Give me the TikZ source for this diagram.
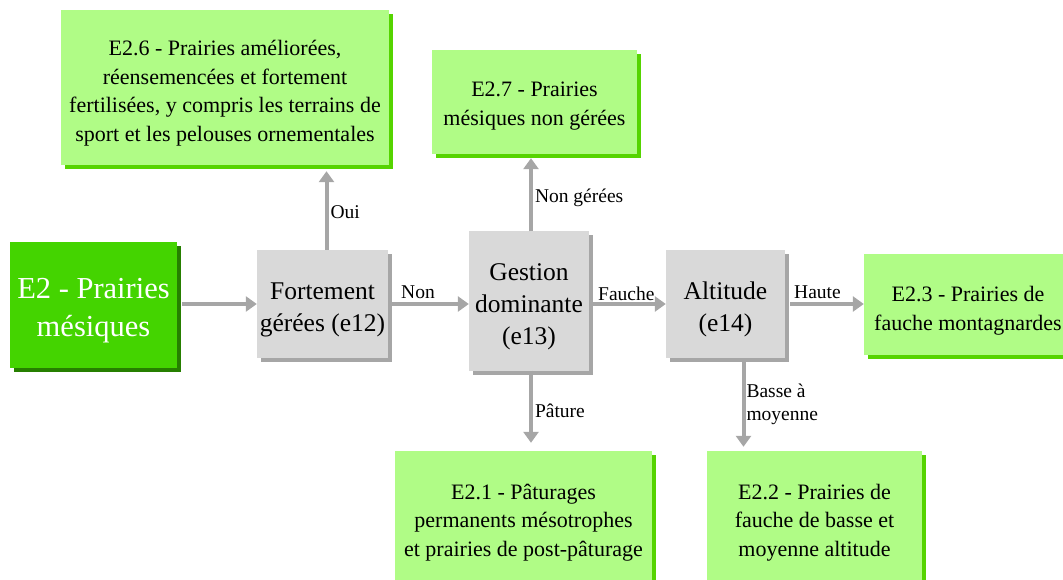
\documentclass[tikz,border=0pt]{standalone}
\usepackage{fontspec}
\setmainfont{Liberation Serif}
\usetikzlibrary{arrows.meta,shadows}

\definecolor{rootgreen}{HTML}{44D400}
\definecolor{rootshadow}{HTML}{267F00}
\definecolor{leafgreen}{HTML}{B0FC86}
\definecolor{leafshadow}{HTML}{55D400}
\definecolor{testgrey}{HTML}{D9D9D9}
\definecolor{testshadow}{HTML}{A6A6A6}
\definecolor{linkgrey}{HTML}{A6A6A6}

% each box gets a text height a little above its natural one,
% which sets its text block slightly low inside the box
\tikzset{
  basebox/.style={draw=none, align=center, inner sep=0pt, text=black, text depth=0pt},
  rootbox/.style={basebox, fill=rootgreen, text=white,
    font=\fontsize{30.5}{38.5}\selectfont,
    drop shadow={shadow xshift=4pt, shadow yshift=-4pt, fill=rootshadow, opacity=1}},
  testbox/.style={basebox, fill=testgrey,
    font=\fontsize{25.5}{32}\selectfont,
    drop shadow={shadow xshift=4pt, shadow yshift=-4pt, fill=testshadow, opacity=1}},
  leafbox/.style={basebox, fill=leafgreen,
    font=\fontsize{22}{28.5}\selectfont,
    drop shadow={shadow xshift=4pt, shadow yshift=-4pt, fill=leafshadow, opacity=1}},
  link/.style={draw=linkgrey, line width=4pt,
    -{Triangle[width=15pt,length=11pt]}},
  lbl/.style={font=\fontsize{19.5}{23.5}\selectfont, inner sep=2pt, align=left, text=black}
}

\begin{document}
\begin{tikzpicture}[x=1pt, y=-1pt]
\useasboundingbox (0,0) rectangle (1063,580);
\clip (0,0) rectangle (1063,580);

% decision boxes
\node[rootbox, minimum width=167pt, minimum height=126pt, text height=63.3pt] (e2) at (93.5,305)
  {E2 - Prairies\\mésiques};
\node[testbox, minimum width=131pt, minimum height=108pt, text height=54.9pt] (fort) at (322.5,304)
  {Fortement\\gérées (e12)};
\node[testbox, minimum width=120pt, minimum height=139pt, text height=87.4pt] (gest) at (529,301)
  {Gestion\\dominante\\(e13)};
\node[testbox, minimum width=119pt, minimum height=108pt, text height=55.4pt] (alt) at (725.5,304)
  {Altitude\\(e14)};

% habitat boxes
\node[leafbox, minimum width=328pt, minimum height=155pt, text height=107.6pt] (e26) at (225,87.5)
  {E2.6 - Prairies améliorées,\\réensemencées et fortement\\fertilisées, y compris les terrains de\\sport et les pelouses ornementales};
\node[leafbox, minimum width=205pt, minimum height=104pt, text height=46.5pt] (e27) at (534.5,102)
  {E2.7 - Prairies\\mésiques non gérées};
\node[leafbox, minimum width=208pt, minimum height=101pt, text height=51.5pt] (e23) at (968,304.5)
  {E2.3 - Prairies de\\fauche montagnardes};
\node[leafbox, minimum width=257pt, minimum height=133pt, text height=77.1pt] (e21) at (523.5,517.5)
  {E2.1 - Pâturages\\permanents mésotrophes\\et prairies de post-pâturage};
\node[leafbox, minimum width=215pt, minimum height=133pt, text height=77pt] (e22) at (814.5,517.5)
  {E2.2 - Prairies de\\fauche de basse et\\moyenne altitude};

% connectors
\draw[link, shorten <=5pt] (e2.east |- fort.west) -- (fort.west);
\draw[link, shorten <=2pt] (fort.east) -- (fort.east -| gest.west)
  node[lbl, pos=0, anchor=south west, xshift=9pt, yshift=1pt] {Non};
\draw[link, shorten <=4pt] (gest.east |- alt.west) -- (alt.west)
  node[lbl, pos=0, anchor=south west, xshift=5pt, yshift=-1pt] {Fauche};
\draw[link, shorten <=5pt] (alt.east) -- (alt.east -| e23.west)
  node[lbl, pos=0, anchor=south west, xshift=5pt, yshift=1pt] {Haute};

\draw[link, shorten >=6pt] ([xshift=4pt]fort.north) -- ([xshift=4pt]fort.north |- e26.south)
  node[lbl, midway, right, yshift=-5pt] {Oui};
\draw[link, shorten >=4pt] ([xshift=2pt]gest.north) -- ([xshift=2pt]gest.north |- e27.south)
  node[lbl, midway, right, yshift=-5pt] {Non gérées};
\draw[link, shorten >=8pt] ([xshift=2pt]gest.south) -- ([xshift=2pt]gest.south |- e21.north)
  node[lbl, midway, right] {Pâture};
\draw[link, shorten <=4pt, shorten >=4pt] ([xshift=18pt]alt.south) -- ([xshift=18pt]alt.south |- e22.north)
  node[lbl, midway, right, inner xsep=1pt] {Basse à\\moyenne};
\end{tikzpicture}
\end{document}
